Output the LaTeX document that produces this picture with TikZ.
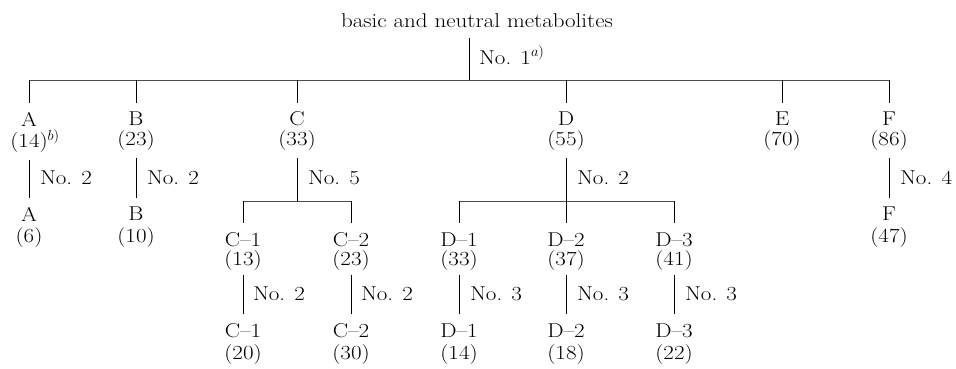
\documentclass[tikz,border=0pt]{standalone}
\usepackage{fontspec}
\setmainfont{Latin Modern Roman}[FakeStretch=1.15]
\begin{document}
\begin{tikzpicture}[x=1pt,y=-1pt,
  txt/.style={inner sep=0pt,outer sep=0pt},
  lbl/.style={txt,anchor=west},
  vline/.style={line width=0.9pt},
  hline/.style={line width=0.6pt,black!70},
  font=\fontsize{20}{24}\selectfont]
\useasboundingbox (0,0) rectangle (956,368);
% title
\node[txt] (title) at (477,21) {basic and neutral metabolites};
\coordinate (bar) at (469,80);
\draw[vline] ([yshift=-10pt]title.south -| bar) -- (bar);
\node[lbl] (l1) at (479,55) {No. 1$^{a)}$};
\draw[hline] (29,80) coordinate (barL) -- (889,80) coordinate (barR);
% first level
\node[txt] (A)  at (29,119) {A};
\node[txt] (An) at (29,141) {(14)\rlap{$^{b)}$}};
\node[txt] (B)  at (136,119) {B};
\node[txt] (Bn) at (136,141) {(23)};
\node[txt] (C)  at (297,119) {C};
\node[txt] (Cn) at (297,141) {(33)};
\node[txt] (D)  at (566,119) {D};
\node[txt] (Dn) at (566,141) {(55)};
\node[txt] (E)  at (782,119) {E};
\node[txt] (En) at (782,141) {(70)};
\node[txt] (F)  at (889,119) {F};
\node[txt] (Fn) at (889,141) {(86)};
\foreach \n in {A,B,C,D,E,F}
  \draw[vline] (\n.north |- bar) -- ([yshift=9pt]\n.north);
% second level (A, B, F)
\node[txt] (A2)  at (29,214) {A};
\node[txt] (A2n) at (29,238) {(6)};
\node[txt] (B2)  at (136,214) {B};
\node[txt] (B2n) at (136,238) {(10)};
\node[txt] (F2)  at (889,214) {F};
\node[txt] (F2n) at (889,238) {(47)};
\draw[vline] ([yshift=-7pt]An.south) -- ([yshift=9pt]A2.north);
\draw[vline] ([yshift=-7pt]Bn.south) -- ([yshift=9pt]B2.north);
\draw[vline] ([yshift=-7pt]Fn.south) -- ([yshift=9pt]F2.north);
\node[lbl] (lA) at (40,178) {No. 2};
\node[lbl] (lB) at (147,178) {No. 2};
\node[lbl] (lF) at (900,178) {No. 4};
% C subtree
\coordinate (Cbar) at (297,201);
\draw[vline] ([yshift=-7pt]Cn.south) -- (Cbar);
\node[lbl] (lC) at (308,178) {No. 5};
\node[txt] (C1)  at (243,240) {C--1};
\node[txt] (C1n) at (243,261) {(13)};
\node[txt] (C2)  at (351,240) {C--2};
\node[txt] (C2n) at (351,261) {(23)};
\draw[hline] (C1 |- Cbar) -- (C2 |- Cbar);
\foreach \n in {C1,C2}
  \draw[vline] (\n |- Cbar) -- ([yshift=10pt]\n.north);
\node[txt] (C1b)  at (243,331) {C--1};
\node[txt] (C1bn) at (243,355) {(20)};
\node[txt] (C2b)  at (351,331) {C--2};
\node[txt] (C2bn) at (351,355) {(30)};
\draw[vline] ([yshift=-4pt]C1n.south) -- ([yshift=10pt]C1b.north);
\draw[vline] ([yshift=-4pt]C2n.south) -- ([yshift=10pt]C2b.north);
\node[lbl] (lC1) at (253,294) {No. 2};
\node[lbl] (lC2) at (361,294) {No. 2};
% D subtree
\coordinate (Dbar) at (566,201);
\draw[vline] ([yshift=-7pt]Dn.south) -- (Dbar);
\node[lbl] (lD) at (577,178) {No. 2};
\node[txt] (D1)  at (459,240) {D--1};
\node[txt] (D1n) at (459,261) {(33)};
\node[txt] (D2)  at (566,240) {D--2};
\node[txt] (D2n) at (566,261) {(37)};
\node[txt] (D3)  at (674,240) {D--3};
\node[txt] (D3n) at (674,261) {(41)};
\draw[hline] (D1 |- Dbar) -- (D3 |- Dbar);
\foreach \n in {D1,D2,D3}
  \draw[vline] (\n |- Dbar) -- ([yshift=10pt]\n.north);
\node[txt] (D1b)  at (459,331) {D--1};
\node[txt] (D1bn) at (459,355) {(14)};
\node[txt] (D2b)  at (566,331) {D--2};
\node[txt] (D2bn) at (566,355) {(18)};
\node[txt] (D3b)  at (674,331) {D--3};
\node[txt] (D3bn) at (674,355) {(22)};
\foreach \n in {D1,D2,D3}
  \draw[vline] ([yshift=-4pt]\n n.south) -- ([yshift=10pt]\n b.north);
\node[lbl] (lD1) at (470,294) {No. 3};
\node[lbl] (lD2) at (577,294) {No. 3};
\node[lbl] (lD3) at (685,294) {No. 3};
\end{tikzpicture}
\end{document}
